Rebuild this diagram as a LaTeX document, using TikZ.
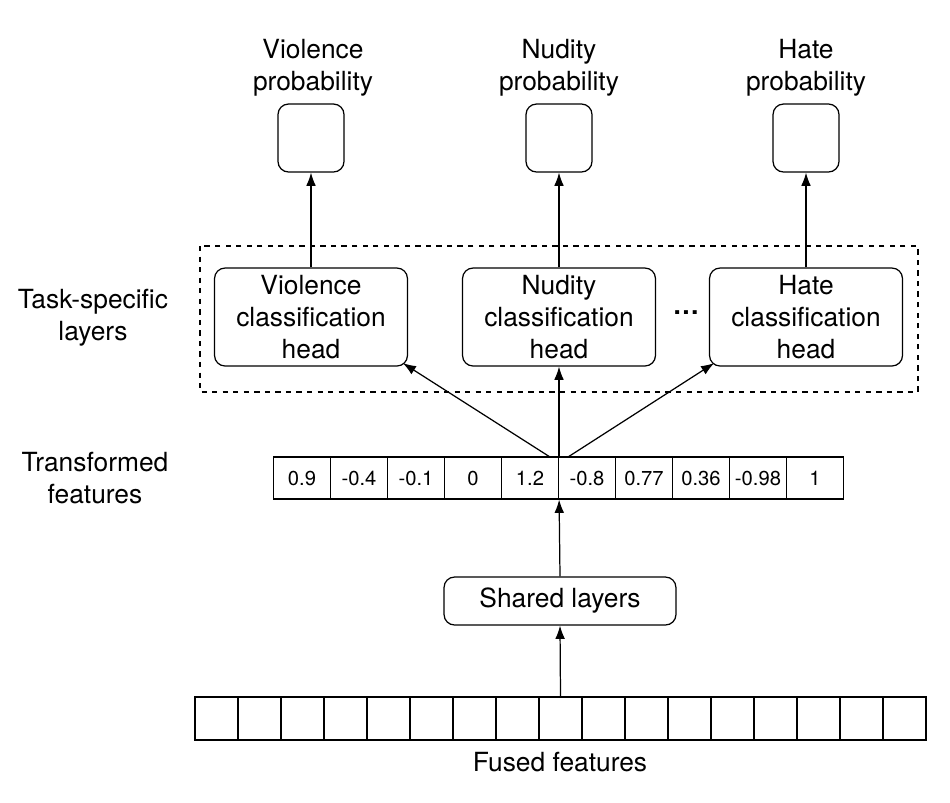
\documentclass[tikz,border=0pt]{standalone}
\usepackage{fontspec}
\setmainfont{TeX Gyre Heros}
\usetikzlibrary{arrows.meta}

\begin{document}
\begin{tikzpicture}[x=0.02cm,y=-0.02cm,line width=0.7pt,
    every node/.style={font=\fontsize{15}{18}\selectfont,align=center,inner sep=0pt},
    head/.style={draw,rounded corners=6pt,minimum width=3.86cm,minimum height=1.96cm},
    prob/.style={draw,rounded corners=6pt,minimum width=1.32cm,minimum height=1.36cm},
    cell/.style={draw,minimum width=1.14cm,minimum height=0.84cm,font=\fontsize{11.5}{14}\selectfont},
    fcell/.style={draw,minimum width=0.86cm,minimum height=0.86cm},
    move/.style={-{Latex[length=7.5pt,width=5.5pt]}}]
    \useasboundingbox (0,0) rectangle (950,802);

    \node (vlabel) at (313,68) {Violence\\probability};
    \node (nlabel) at (559,68) {Nudity\\probability};
    \node (hlabel) at (806,68) {Hate\\probability};
    \node[prob] (vprob) at (311,138) {};
    \node[prob] (nprob) at (559,138) {};
    \node[prob] (hprob) at (806,138) {};

    \draw[dashed] (200,246) rectangle (918,392);
    \node (task) at (93,318) {Task-specific\\layers};
    \node[head] (vhead) at (311,317) {Violence\\classification\\head};
    \node[head] (nhead) at (559,317) {Nudity\\classification\\head};
    \node[head] (hhead) at (806,317) {Hate\\classification\\head};
    \node (dots) at (686,313) {\textbf{\dots}};

    \node (trans) at (95,478) {Transformed\\features};
    \foreach \v [count=\i] in {0.9,-0.4,-0.1,0,1.2,-0.8,0.77,0.36,-0.98,1}
      \node[cell] (t\i) at (245+57*\i,478) {\v};
    \coordinate (tl) at (550,457);
    \coordinate (tm) at (559,457);
    \coordinate (tr) at (568,457);

    \node[draw,rounded corners=6pt,minimum width=4.64cm,minimum height=0.96cm] (shared) at (560,601) {Shared layers};

    \foreach \i in {1,...,17}
      \node[fcell] (f\i) at (173.5+43*\i,718.5) {};
    \node (fused) at (560,762) {Fused features};

    \path[move,draw] (f9.north) -- (shared.south);
    \path[move,draw] (shared.north) -- (t5.south east);
    \path[move,draw] (tl) -- ([xshift=-3pt,yshift=2pt]vhead.south east);
    \path[move,draw] (tm) -- (nhead.south);
    \path[move,draw] (tr) -- ([xshift=3pt,yshift=2pt]hhead.south west);
    \path[move,draw] (vhead) -- (vprob);
    \path[move,draw] (nhead) -- (nprob);
    \path[move,draw] (hhead) -- (hprob);
\end{tikzpicture}
\end{document}
